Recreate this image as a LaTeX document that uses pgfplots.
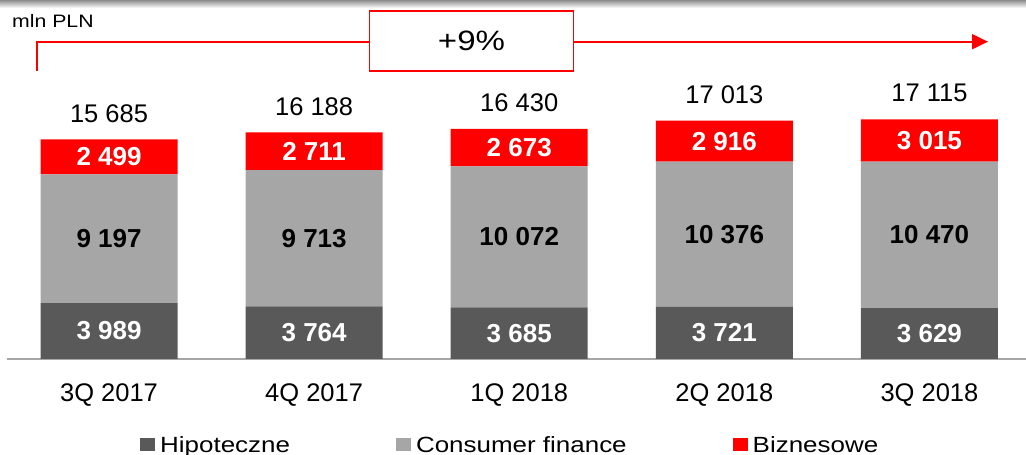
\documentclass[border=0pt]{standalone}
\usepackage{fontspec}
\setmainfont{Liberation Sans}
\newfontfamily\widefont[FakeStretch=1.18]{Liberation Sans}
\usepackage{pgfplots}
\usepackage{pgfplotstable}
\pgfplotsset{compat=1.18}
\usetikzlibrary{arrows.meta}

\definecolor{hipcol}{HTML}{595959}
\definecolor{conscol}{HTML}{A6A6A6}
\definecolor{bizcol}{HTML}{FF0000}
\definecolor{axcol}{HTML}{A6A6A6}

% Portfolio by segment, mln PLN
\pgfplotstableread{
x hip  cons  biz  total
0 3989 9197  2499 15685
1 3764 9713  2711 16188
2 3685 10072 2673 16430
3 3721 10376 2916 17013
4 3629 10470 3015 17115
}\loans

% shared geometry of the bar axis and the totals overlay
\pgfplotsset{loanframe/.style={
  at={(6.5pt,96pt)}, anchor=south west,
  scale only axis, width=1019.3pt, height=280.112pt,
  xmin=-0.5, xmax=4.47, ymin=0, ymax=20000, clip=false,
  /pgf/number format/.cd, fixed, precision=0, 1000 sep={\ }, assume math mode=true,
  /pgfplots/.cd}}

\begin{document}
\begin{tikzpicture}
\useasboundingbox (0pt,0pt) rectangle (1026pt,455pt);
\shade[top color=black!45, bottom color=white] (0pt,447pt) rectangle (1026pt,455pt);
\begin{axis}[
  loanframe,
  ybar stacked, bar width=137pt,
  axis x line=bottom, axis y line=none,
  x axis line style={draw=axcol, line width=2pt, -},
  xtick={0,...,4},
  xticklabels={3Q 2017,4Q 2017,1Q 2018,2Q 2018,3Q 2018},
  major tick length=0pt,
  xticklabel style={font=\fontsize{25.5}{30}\selectfont, anchor=base, yshift=-43pt},
  legend columns=3,
  legend style={at={(0.128,-0.307)}, anchor=west, draw=none, fill=none,
    font=\widefont\fontsize{22}{26}\selectfont,
    /tikz/every odd column/.append style={column sep=3pt},
    /tikz/every even column/.append style={column sep=104pt}},
]
% segment labels sit in the middle of each segment
\addplot[fill=hipcol, draw=none,
  legend image code/.code={\fill[hipcol] (0pt,-6pt) rectangle (15pt,7pt);},
  nodes near coords, point meta=\thisrow{hip},
  every node near coord/.append style={text=white, font=\bfseries\fontsize{26}{30}\selectfont,
    anchor=center}]
  table[x=x, y=hip]{\loans};
\addplot[fill=conscol, draw=none,
  legend image code/.code={\fill[conscol] (0pt,-6pt) rectangle (15pt,7pt);},
  nodes near coords, point meta=\thisrow{cons},
  every node near coord/.append style={text=black, font=\bfseries\fontsize{26}{30}\selectfont,
    anchor=center}]
  table[x=x, y=cons]{\loans};
\addplot[fill=bizcol, draw=none,
  legend image code/.code={\fill[bizcol] (0pt,-6pt) rectangle (15pt,7pt);},
  nodes near coords, point meta=\thisrow{biz},
  every node near coord/.append style={text=white, font=\bfseries\fontsize{26}{30}\selectfont,
    anchor=center}]
  table[x=x, y=biz]{\loans};
\legend{Hipoteczne, Consumer finance, Biznesowe}
\end{axis}

% totals above the bars
\begin{axis}[loanframe, hide axis]
\addplot[only marks, mark=none,
  nodes near coords, point meta=\thisrow{total},
  every node near coord/.append style={text=black, font=\fontsize{25.5}{30}\selectfont,
    anchor=center, yshift=26pt}]
  table[x=x, y=total]{\loans};
\end{axis}

% growth bracket
\draw[red, line width=2pt] (36.7pt,384pt) -- (36.7pt,413.3pt) -- (370pt,413.3pt);
\draw[red, line width=2pt, -{Triangle[length=16pt,width=15pt]}] (573pt,413.3pt) -- (988pt,413.3pt);
\node[draw=red, line width=1.5pt, fill=white, minimum width=204pt, minimum height=60pt,
  inner sep=0pt, font=\widefont\fontsize{28}{32}\selectfont] at (471.5pt,414pt) {+9\%};
\node[anchor=base west, inner sep=0pt, font=\widefont\fontsize{18}{22}\selectfont]
  at (12pt,427.3pt) {mln PLN};
\end{tikzpicture}
\end{document}
